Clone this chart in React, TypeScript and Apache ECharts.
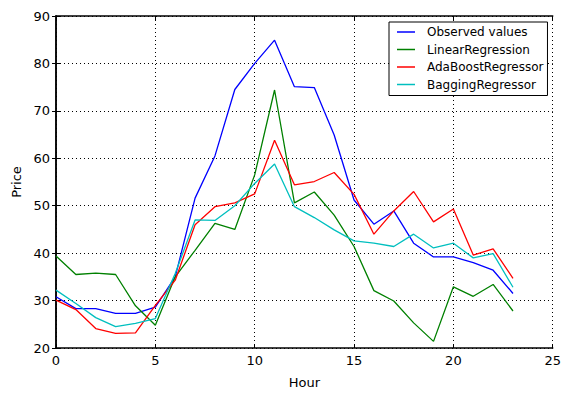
import React, { useEffect, useRef } from "react";
import * as echarts from "echarts";

const hours = [0, 1, 2, 3, 4, 5, 6, 7, 8, 9, 10, 11, 12, 13, 14, 15, 16, 17, 18, 19, 20, 21, 22, 23];
const observed = [30.8, 28.3, 28.3, 27.3, 27.3, 28.6, 35, 51.6, 60.5, 74.5, 80, 84.9, 75.1, 74.9, 64.9, 51.2, 46.1, 48.9, 42.1, 39.2, 39.2, 38, 36.4, 31.5];
const linearReg = [39.4, 35.5, 35.8, 35.5, 28.9, 24.8, 35, 40.6, 46.3, 45, 56.5, 74.4, 50.6, 52.9, 48, 41.4, 32.1, 29.9, 25.3, 21.4, 32.9, 30.9, 33.4, 27.8];
const adaBoost = [30.1, 28.1, 24.1, 23.1, 23.2, 29, 34.3, 46, 49.8, 50.6, 52.5, 63.8, 54.4, 55.1, 57, 52.4, 44, 48.9, 53, 46.6, 49.3, 39.6, 40.9, 34.7];
const bagging = [32.2, 29.4, 26.4, 24.5, 25.2, 26.2, 35.7, 47, 46.9, 50, 54.7, 58.8, 49.8, 47.5, 44.9, 42.6, 42.1, 41.4, 44, 41.1, 42.1, 39, 39.9, 32.8];
const seriesNames = ["Observed values", "LinearRegression", "AdaBoostRegressor", "BaggingRegressor"];
const seriesColors = ["#0000ff", "#008000", "#ff0000", "#00bfbf"];
const xTicks = [0, 25, 5];
const yTicks = [20, 90, 10];

const FONT = "DejaVu Sans";

export default function App() {
  const ref = useRef<HTMLDivElement>(null);
  useEffect(() => {
    if (!ref.current) return;
    const chart = echarts.init(ref.current, undefined, { renderer: "svg" });
    const allData = [observed, linearReg, adaBoost, bagging];
    const tick = { show: true, inside: true, length: 4, lineStyle: { color: "#000", width: 1 } };
    const grid = { show: true, lineStyle: { color: "#000", width: 1, type: [1, 3] } };
    const axisLine = { show: true, lineStyle: { color: "#000", width: 1.5 } };
    chart.setOption({
      animation: false,
      backgroundColor: "#fff",
      grid: { left: 56, right: 9.5, top: 16, bottom: 46, show: false },
      legend: {
        data: seriesNames,
        orient: "vertical",
        left: 389,
        top: 22,
        icon: "rect",
        itemWidth: 18,
        itemHeight: 1.5,
        itemGap: 3.5,
        padding: [3, 4, 4, 8],
        borderColor: "#000",
        borderWidth: 1,
        backgroundColor: "#fff",
        textStyle: { fontFamily: FONT, fontSize: 12, color: "#000", lineHeight: 14, padding: [0, 0, 0, 7] },
      },
      xAxis: [
        {
          type: "value",
          min: xTicks[0],
          max: xTicks[1],
          interval: xTicks[2],
          name: "Hour",
          nameLocation: "middle",
          nameGap: 28,
          nameTextStyle: { fontFamily: FONT, fontSize: 13, color: "#000" },
          axisLine,
          axisTick: tick,
          axisLabel: { fontFamily: FONT, fontSize: 13, color: "#000", margin: 6 },
          splitLine: grid,
        },
        {
          type: "value",
          position: "top",
          min: xTicks[0],
          max: xTicks[1],
          interval: xTicks[2],
          axisLine,
          axisTick: tick,
          axisLabel: { show: false },
          splitLine: { show: false },
        },
      ],
      yAxis: [
        {
          type: "value",
          min: yTicks[0],
          max: yTicks[1],
          interval: yTicks[2],
          name: "Price",
          nameLocation: "middle",
          nameGap: 31.5,
          nameTextStyle: { fontFamily: FONT, fontSize: 13, color: "#000" },
          axisLine,
          axisTick: tick,
          axisLabel: { fontFamily: FONT, fontSize: 13, color: "#000", margin: 6 },
          splitLine: grid,
        },
        {
          type: "value",
          position: "right",
          min: yTicks[0],
          max: yTicks[1],
          interval: yTicks[2],
          axisLine,
          axisTick: tick,
          axisLabel: { show: false },
          splitLine: { show: false },
        },
      ],
      series: seriesNames.map((name, k) => ({
        name,
        type: "line",
        xAxisIndex: 0,
        yAxisIndex: 0,
        showSymbol: false,
        symbol: "none",
        color: seriesColors[k],
        lineStyle: { color: seriesColors[k], width: 1.3 },
        data: hours.map((h, i) => [h, allData[k][i]]),
      })),
    });
    return () => chart.dispose();
  }, []);
  return <div ref={ref} style={{ width: 564, height: 394, position: "absolute", left: 0, top: 0 }} />;
}
